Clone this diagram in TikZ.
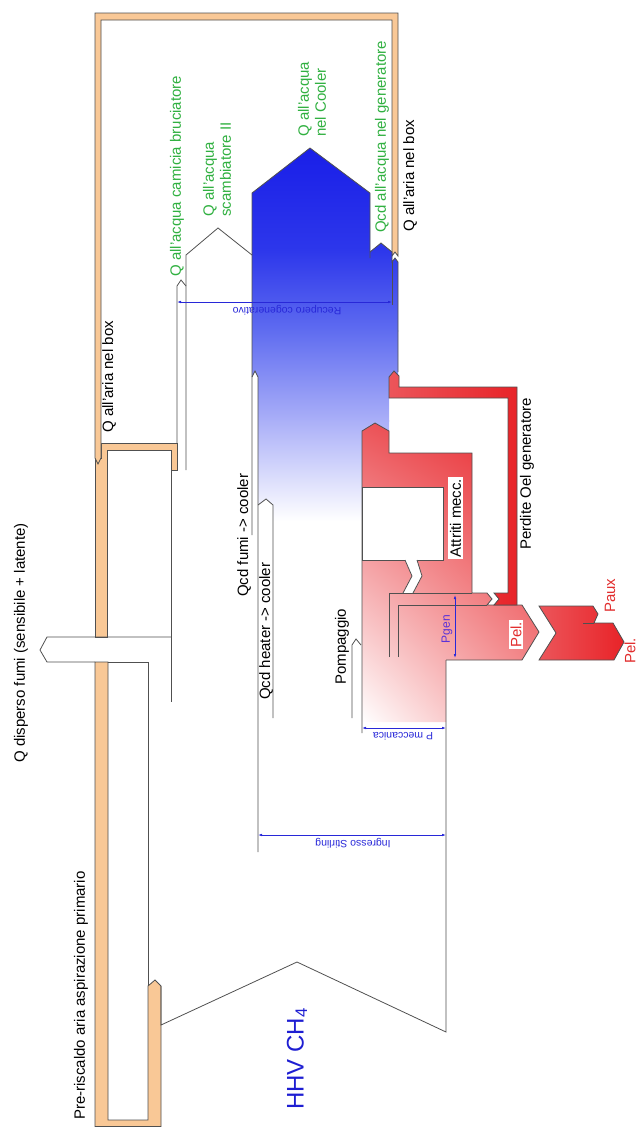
\documentclass[tikz,border=0pt]{standalone}
\usepackage{fontspec}
\setmainfont{Liberation Sans}
\usetikzlibrary{arrows.meta, shadings}
\definecolor{airfill}{HTML}{F9C896}
\definecolor{edge}{HTML}{505050}
\definecolor{wgreen}{HTML}{30B040}
\definecolor{dimblue}{HTML}{2828D8}
\definecolor{pgenvio}{HTML}{5A32D8}
\definecolor{hhvblue}{HTML}{1E1ED2}
\definecolor{redtxt}{RGB}{225,45,45}
\definecolor{cool0}{RGB}{25,30,232}
\definecolor{cool1}{RGB}{45,55,235}
\definecolor{cool2}{RGB}{95,108,240}
\definecolor{cool3}{RGB}{170,175,248}
\definecolor{hot}{RGB}{232,35,40}
\definecolor{hotpale}{RGB}{236,85,90}
\definecolor{hotlow}{RGB}{244,150,152}

\begin{document}
\begin{tikzpicture}[x=1pt, y=-1pt,
    outl/.style={draw=edge, line width=0.8pt},
    air/.style={fill=airfill, draw=edge, line width=0.8pt},
    lbl/.style={rotate=90, anchor=west, inner sep=0pt, align=left,
                font=\fontsize{15}{17}\selectfont},
    wlbl/.style={lbl, text=wgreen},
    plbl/.style={lbl, text=redtxt},
    dim/.style={draw=dimblue, line width=0.7pt,
                {Latex[length=4pt,width=2.6pt]}-{Latex[length=4pt,width=2.6pt]}},
    dimlbl/.style={rotate=180, text=dimblue, inner sep=0pt,
                   font=\fontsize{10.5}{12}\selectfont},
]
\useasboundingbox (0,0) rectangle (638,1128);

% air in the box and primary air preheating
\draw[air] (177,470) -- (177,443) -- (101,443) -- (101,458) -- (95,458) -- (95,637)
  -- (107,637) -- (107,450) -- (171,450) -- (171,470) -- cycle;
\draw[air] (398,256) -- (398,13) -- (95,13) -- (95,458) -- (98,464) -- (101,458)
  -- (101,20) -- (392,20) -- (392,256) -- (395,252) -- cycle;
\draw[air] (95,662) -- (95,1126.5) -- (161,1126.5) -- (161,986) -- (155,980) -- (148,986)
  -- (148,1120) -- (108,1120) -- (108,662) -- cycle;

% heat to the cooler
\begin{scope}
  \clip (252,193) -- (310,148) -- (370,193) -- (370,252) -- (381,243) -- (392,252)
    -- (392,262) -- (395,258) -- (398,262) -- (398,390) -- (389,390) -- (389,431)
    -- (362,431) -- (362,740) -- (273,740) -- (273,505) -- (266,499) -- (258,505)
    -- (258,377) -- (255,371) -- (252,377) -- cycle;
  \shade[top color=cool0, bottom color=cool1] (240,146) rectangle (410,251);
  \shade[top color=cool1, bottom color=cool2] (240,250) rectangle (410,331);
  \shade[top color=cool2, bottom color=cool3] (240,330) rectangle (410,421);
  \shade[top color=cool3, bottom color=white] (240,420) rectangle (410,521);
\end{scope}

% mechanical and electric power
\begin{scope}
  \clip (362,722) -- (362,431) -- (375,423) -- (389,431) -- (389,453) -- (472,453)
    -- (472,593) -- (487,593) -- (492,599) -- (487,605) -- (522,605) -- (539,632)
    -- (522,660) -- (446,660) -- (446,722) -- cycle;
  \shade[upper left=hotpale, upper right=hot, lower left=white, lower right=hotlow]
    (362,423) rectangle (539,722);
\end{scope}
\draw[outl] (362,733) -- (362,431) -- (375,423) -- (389,431) -- (389,453) -- (472,453)
  -- (472,593) -- (487,593) -- (492,599) -- (487,605) -- (522,605) -- (539,632)
  -- (522,660) -- (446,660);
\draw[outl, fill=white] (362,487) rectangle (443,560);
\fill[white] (405,560) -- (412,576) -- (403,593) -- (413,593) -- (422,576) -- (417,560) -- cycle;
\draw[outl] (405,560) -- (412,576) -- (403,593);
\draw[outl] (417,560) -- (422,576) -- (413,593);
\draw[outl] (389,657) -- (389,593) -- (472,593);
\draw[outl] (398,657) -- (398,605) -- (487,605);
\shadedraw[left color=hotpale, right color=hot, outl]
  (389,377) -- (394,371) -- (399,376) -- (399,387) -- (517,387) -- (517,605)
  -- (494,605) -- (499,599) -- (494,593) -- (508,593) -- (508,398) -- (389,398) -- cycle;
\shadedraw[left color=hotpale, right color=hot, outl]
  (539,606) -- (593,606) -- (598,614) -- (594,623) -- (613,623) -- (624,642)
  -- (614,660) -- (539,660) -- (556,633) -- cycle;
\draw[outl] (583,623) -- (594,623);

% flue gas and Stirling flows
\draw[outl] (171,470) -- (171,702);
\draw[outl] (171,637) -- (47,637) -- (40,650) -- (47,662) -- (95,662);
\draw[outl] (108,662) -- (148,662) -- (148,986);
\draw[outl] (161,986) -- (161,1025) -- (297,962) -- (446,1032) -- (446,660);
\draw[outl] (177,443) -- (177,286) -- (181,280) -- (186,286);
\draw[outl] (186,470) -- (186,255) -- (218,228) -- (252,255);
\draw[outl] (252,535) -- (252,193) -- (310,148) -- (370,193) -- (370,258);
\draw[outl] (370,252) -- (381,243) -- (392,252) -- (392,262) -- (395,258)
  -- (398,262) -- (398,372);
\draw[edge, line width=0.6pt] (392,262) -- (392,305);
\draw[outl] (252,377) -- (255,371) -- (258,377) -- (258,852);
\draw[outl] (258,505) -- (266,499) -- (273,505) -- (273,718);
\draw[outl] (352,718) -- (352,645) -- (356,639) -- (361,645);

% dimensions
\coordinate (recL) at (177,302);
\coordinate (recR) at (392,302);
\coordinate (stiL) at (258,835);
\coordinate (stiR) at (446,835);
\coordinate (mecL) at (362,728);
\coordinate (mecR) at (446,728);
\coordinate (genT) at (455,595);
\coordinate (genB) at (455,658);
\draw[dim] (recL) -- (recR);
\draw[dim] (stiL) -- (stiR);
\draw[dim] (mecL) -- (mecR);
\draw[dim] (genT) -- (genB);
\node[dimlbl] (recup) at (287,310) {Recupero cogenerativo};
\node[dimlbl] (stirl) at (353,843) {Ingresso Stirling};
\node[dimlbl] (pmecc) at (403,736) {P meccanica};
\node[lbl, anchor=center, text=pgenvio, font=\fontsize{12}{14}\selectfont] (pgen) at (447,629) {Pgen};

% labels
\node[wlbl] (camicia) at (177,277) {Q all'acqua camicia bruciatore};
\node[wlbl] (scamb) at (217,217) {Q all'acqua\\scambiatore II};
\node[wlbl] (cooler) at (312,137) {Q all'acqua\\nel Cooler};
\node[wlbl] (genacq) at (382,233) {Qcd all'acqua nel generatore};
\node[lbl] (boxR) at (410,232) {Q all'aria nel box};
\node[lbl] (boxL) at (109,433) {Q all'aria nel box};
\node[lbl] (fumi) at (21,763) {Q disperso fumi (sensibile + latente)};
\node[lbl] (fumcool) at (244,597) {Qcd fumi -> cooler};
\node[lbl] (heatcool) at (266,700) {Qcd heater -> cooler};
\node[lbl] (pomp) at (342,685) {Pompaggio};
\node[lbl, fill=white, inner sep=1.5pt] (attr) at (455.5,559) {Attriti mecc.};
\node[lbl] (perd) at (527,550) {Perdite Oel generatore};
\node[plbl, fill=white, inner sep=1.5pt] (pel) at (516,649.5) {Pel.};
\node[plbl] (paux) at (610,613) {Paux};
\node[plbl] (pnet) at (630,664) {Pel.};
\node[lbl] (preheat) at (81,1120) {Pre-riscaldo aria aspirazione primario};
\node[lbl, text=hhvblue, font=\fontsize{24}{28}\selectfont] (hhv) at (297,1110) {HHV CH\textsubscript{4}};
\end{tikzpicture}
\end{document}
